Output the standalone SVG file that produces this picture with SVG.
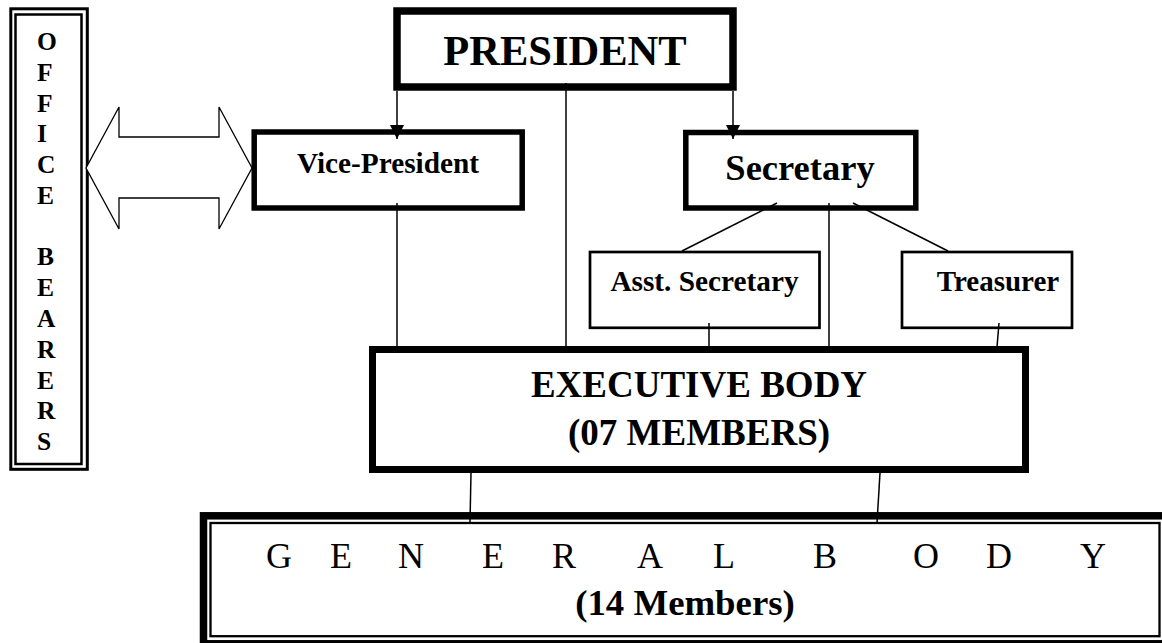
<svg xmlns="http://www.w3.org/2000/svg" width="1162" height="643" viewBox="0 0 1162 643">
<style>
  .t { font-family: "Liberation Serif", "Times New Roman", serif; fill: #000; }
  .b { font-weight: bold; }
  .box { fill: none; stroke: #000; }
  .ln { stroke: #000; stroke-width: 1.5; fill: none; }
</style>
<defs>
  <marker id="ah" viewBox="0 0 14 14" markerWidth="14" markerHeight="14" refX="14" refY="7" orient="auto" markerUnits="userSpaceOnUse">
    <path d="M0,0 L14,7 L0,14 Z" fill="#000"/>
  </marker>
</defs>
<rect width="1162" height="643" fill="#fff"/>

<g id="office-bearers">
  <rect class="box" x="10.8" y="8.8" width="76.5" height="460.5" stroke-width="3"/>
  <rect class="box" x="15.5" y="14.5" width="66" height="449.5" stroke-width="2.5"/>
  <text class="t b" font-size="25.5">
    <tspan x="37" y="50">O</tspan>
    <tspan x="37" y="80.8">F</tspan>
    <tspan x="37" y="111.5">F</tspan>
    <tspan x="37" y="142.3">I</tspan>
    <tspan x="37" y="173">C</tspan>
    <tspan x="37" y="203.8">E</tspan>
    <tspan x="37" y="265.4">B</tspan>
    <tspan x="37" y="296.2">E</tspan>
    <tspan x="37" y="327">A</tspan>
    <tspan x="37" y="357.7">R</tspan>
    <tspan x="37" y="388.5">E</tspan>
    <tspan x="37" y="419.2">R</tspan>
    <tspan x="37" y="450">S</tspan>
  </text>
</g>

<g id="double-arrow">
  <path d="M86,168 L119,107 L119,137 L219,137 L219,107 L252,168 L219,229 L219,198 L119,198 L119,229 Z" fill="#fff" stroke="#000" stroke-width="1.3" stroke-linejoin="miter"/>
</g>

<g id="connectors">
  <line class="ln" x1="397" y1="91" x2="397" y2="139" stroke-width="2" marker-end="url(#ah)"/>
  <line class="ln" x1="733" y1="91" x2="733" y2="139" stroke-width="2" marker-end="url(#ah)"/>
  <line class="ln" x1="566" y1="83" x2="566" y2="347" stroke-width="1.3"/>
  <line class="ln" x1="397" y1="203" x2="397" y2="347" stroke-width="1.3"/>
  <line class="ln" x1="777" y1="203" x2="682" y2="251"/>
  <line class="ln" x1="829" y1="203" x2="829" y2="347" stroke-width="1.3"/>
  <line class="ln" x1="853" y1="203" x2="948" y2="251"/>
  <line class="ln" x1="709" y1="323" x2="709" y2="347" stroke-width="1.3"/>
  <line class="ln" x1="999" y1="323" x2="997" y2="347" stroke-width="1.3"/>
  <line class="ln" x1="471" y1="473" x2="470" y2="523" stroke-width="1.3"/>
  <line class="ln" x1="880" y1="473" x2="877" y2="523" stroke-width="1.3"/>
</g>

<g id="president">
  <rect class="box" x="397" y="11" width="336" height="76" stroke-width="7.5"/>
  <text class="t b" x="565" y="65" font-size="42.5" text-anchor="middle">PRESIDENT</text>
</g>

<g id="vice-president">
  <rect class="box" x="254.2" y="132" width="268" height="76" stroke-width="5.5"/>
  <text class="t b" x="388" y="173" font-size="29.3" text-anchor="middle">Vice-President</text>
</g>

<g id="secretary">
  <rect class="box" x="685.8" y="132.5" width="230" height="75.5" stroke-width="5.5"/>
  <text class="t b" x="800" y="180" font-size="36.5" text-anchor="middle">Secretary</text>
</g>

<g id="asst-secretary">
  <rect class="box" x="590" y="252" width="229.5" height="75.8" stroke-width="2.7"/>
  <text class="t b" x="704.5" y="291" font-size="29.3" text-anchor="middle">Asst. Secretary</text>
</g>

<g id="treasurer">
  <rect class="box" x="902" y="252" width="170" height="75.8" stroke-width="2.7"/>
  <text class="t b" x="998" y="291" font-size="29" text-anchor="middle">Treasurer</text>
</g>

<g id="executive-body">
  <rect class="box" x="372.5" y="349.5" width="653" height="120" stroke-width="7"/>
  <text class="t b" x="699" y="397" font-size="37" text-anchor="middle">EXECUTIVE BODY</text>
  <text class="t b" x="699" y="445" font-size="37" text-anchor="middle">(07 MEMBERS)</text>
</g>

<g id="general-body">
  <rect class="box" x="203.5" y="515.8" width="1000" height="128" stroke-width="7.5"/>
  <rect class="box" x="210.5" y="523" width="949" height="113.2" stroke-width="2.3"/>
  <text class="t" y="568" font-size="36" x="266 330 398 482 552 637 713 760 813 913 986 1080">GENERAL BODY</text>
  <text class="t b" x="685" y="615" font-size="36.8" text-anchor="middle">(14 Members)</text>
</g>
</svg>
